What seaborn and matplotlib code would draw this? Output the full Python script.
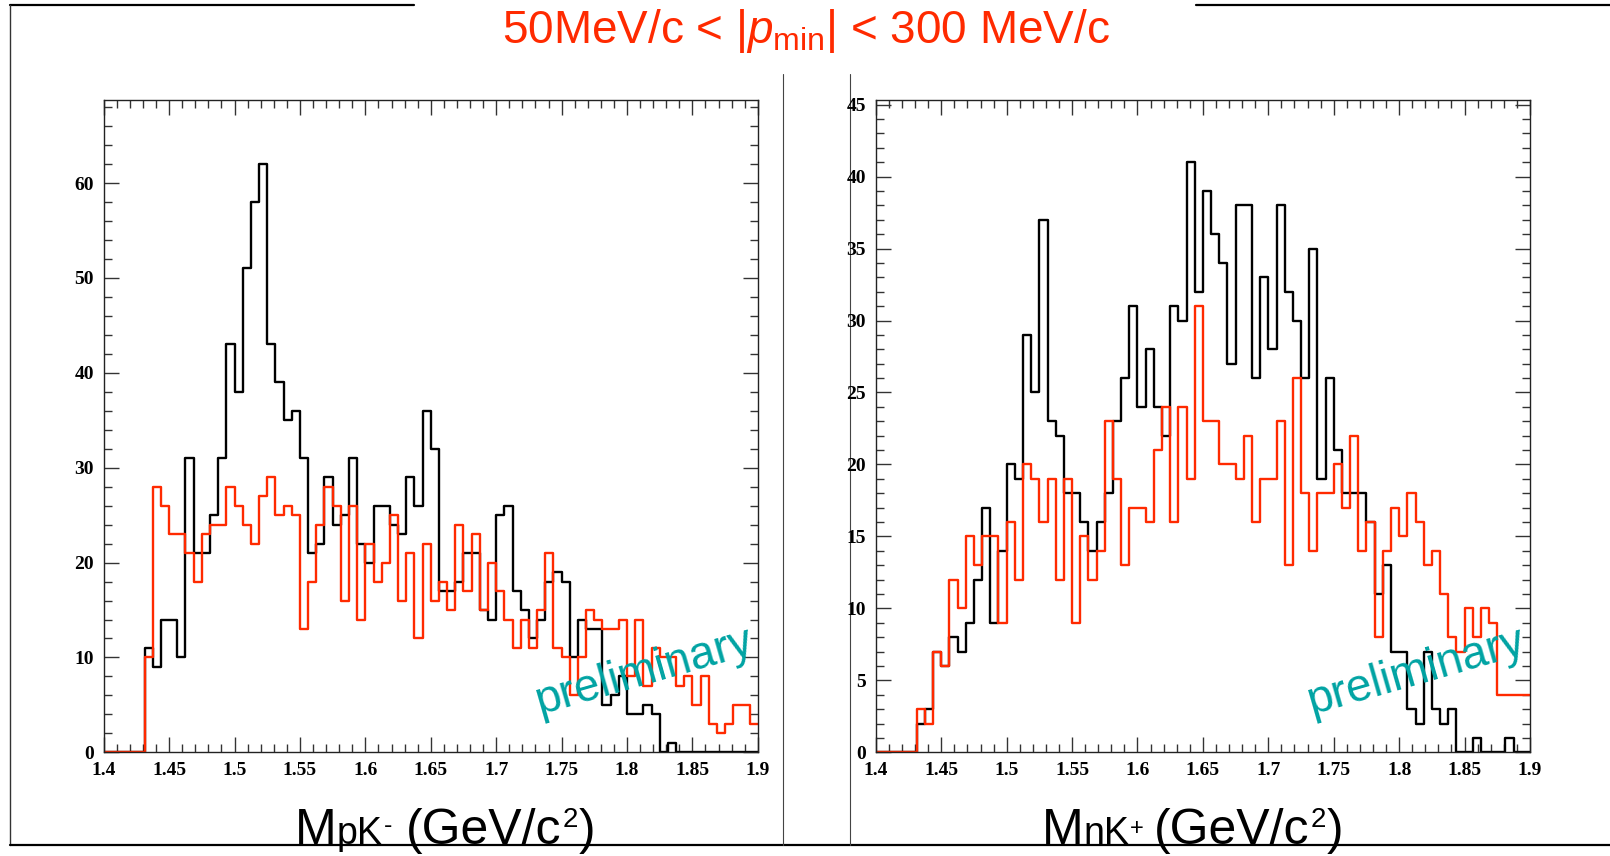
import numpy as np
import pandas as pd
import matplotlib
matplotlib.use("Agg")
import matplotlib.pyplot as plt
import seaborn as sns
from matplotlib.lines import Line2D
from matplotlib.ticker import MultipleLocator, FixedLocator, FixedFormatter

# ---------------- data ----------------
x_min, x_max, n_bins = 1.4, 1.9, 80

left_black = [0, 0, 0, 0, 0, 11, 9, 14, 14, 10,
              31, 21, 21, 25, 31, 43, 38, 51, 58, 62,
              43, 39, 35, 36, 31, 21, 22, 29, 24, 25,
              31, 22, 20, 26, 26, 24, 23, 29, 26, 36,
              32, 17, 17, 18, 21, 21, 15, 14, 25, 26,
              17, 15, 12, 14, 18, 19, 18, 10, 14, 13,
              13, 5, 6, 8, 4, 4, 5, 4, 0, 1,
              0, 0, 0, 0, 0, 0, 0, 0, 0, 0]
left_red = [0, 0, 0, 0, 0, 10, 28, 26, 23, 23,
            21, 18, 23, 24, 24, 28, 26, 24, 22, 27,
            29, 25, 26, 25, 13, 18, 24, 28, 26, 16,
            26, 14, 22, 18, 20, 25, 16, 21, 12, 22,
            16, 18, 15, 24, 17, 23, 15, 20, 17, 14,
            11, 14, 11, 15, 21, 11, 10, 6, 10, 15,
            14, 13, 13, 14, 8, 14, 7, 11, 10, 10,
            7, 8, 5, 8, 3, 2, 3, 5, 5, 3]
right_black = [0, 0, 0, 0, 0, 2, 3, 7, 6, 8,
               7, 9, 12, 17, 9, 14, 20, 19, 29, 25,
               37, 23, 22, 18, 18, 16, 14, 16, 18, 23,
               26, 31, 24, 28, 24, 22, 31, 30, 41, 32,
               39, 36, 34, 27, 38, 38, 26, 33, 28, 38,
               32, 30, 26, 35, 19, 26, 21, 18, 18, 18,
               16, 11, 13, 7, 7, 3, 2, 7, 3, 2,
               3, 0, 0, 1, 0, 0, 0, 1, 0, 0]
right_red = [0, 0, 0, 0, 0, 3, 2, 7, 6, 12,
             10, 15, 13, 15, 15, 9, 16, 12, 20, 19,
             16, 19, 12, 19, 9, 15, 12, 14, 23, 19,
             13, 17, 17, 16, 21, 24, 16, 24, 19, 31,
             23, 23, 20, 20, 19, 22, 16, 19, 19, 23,
             13, 26, 18, 14, 18, 18, 20, 17, 22, 14,
             16, 8, 14, 17, 15, 18, 16, 13, 14, 11,
             8, 7, 10, 8, 10, 9, 4, 4, 4, 4]

x_ticks = [1.4, 1.45, 1.5, 1.55, 1.6, 1.65, 1.7, 1.75, 1.8, 1.85, 1.9]
x_tick_labels = ["1.4", "1.45", "1.5", "1.55", "1.6", "1.65", "1.7",
                 "1.75", "1.8", "1.85", "1.9"]
left_yticks = [0, 10, 20, 30, 40, 50, 60]
right_yticks = [0, 5, 10, 15, 20, 25, 30, 35, 40, 45]

title_text = "50MeV/c < |$\\mathit{p}_{\\mathregular{min}}$| < 300 MeV/c"
# x-axis label pieces: (text, fontsize, raise in px, gap after in px)
left_xlabel = [("M", 36, 0, 0), ("pK", 27, 0, 1), ("-", 18, 11, 14),
               ("(GeV/c", 36, 0, 1), ("2", 20, 17, 1), (")", 36, 0, 0)]
right_xlabel = [("M", 36, 0, 0), ("nK", 27, 0, 1), ("+", 17, 9, 10),
                ("(GeV/c", 36, 0, 1), ("2", 20, 17, 1), (")", 36, 0, 0)]
watermark = "preliminary"

# ---------------- style ----------------
sns.set_theme(style="white")
plt.rcParams["font.family"] = ["Liberation Sans", "DejaVu Sans"]
plt.rcParams["mathtext.fontset"] = "custom"
plt.rcParams["mathtext.rm"] = "Liberation Sans"
plt.rcParams["mathtext.it"] = "Liberation Sans:italic"
plt.rcParams["mathtext.bf"] = "Liberation Sans:bold"

RED = "#ff2a00"
TEAL = "#00a3a3"

bin_w = (x_max - x_min) / n_bins
centers = x_min + bin_w * (np.arange(n_bins) + 0.5)

fig = plt.figure(figsize=(16.1, 8.56), dpi=100)
fig.patch.set_facecolor("white")

ax_l = fig.add_axes([0.0644, 0.1211, 0.4063, 0.7626])
ax_r = fig.add_axes([0.5440, 0.1211, 0.4063, 0.7626])

panels = [
    (ax_l, left_black, left_red, 68.8, left_yticks, 2),
    (ax_r, right_black, right_red, 45.35, right_yticks, 1),
]

for ax, blk, red, ytop, yt, ymin in panels:
    for vals, col in ((blk, "black"), (red, RED)):
        df = pd.DataFrame({"x": centers, "w": np.asarray(vals, dtype=float)})
        sns.histplot(data=df, x="x", weights="w", binwidth=bin_w,
                     binrange=(x_min, x_max), element="step", fill=False,
                     color=col, linewidth=1.7, ax=ax)
    ax.set_xlim(x_min, x_max)
    ax.set_ylim(0, ytop)
    ax.set_xlabel("")
    ax.set_ylabel("")
    ax.xaxis.set_major_locator(FixedLocator(x_ticks))
    ax.xaxis.set_major_formatter(FixedFormatter(x_tick_labels))
    ax.xaxis.set_minor_locator(MultipleLocator(0.01))
    ax.yaxis.set_major_locator(FixedLocator(yt))
    ax.yaxis.set_minor_locator(MultipleLocator(ymin))
    ax.tick_params(which="both", direction="in", top=True, right=True,
                   bottom=True, left=True, color="#333333", width=1.0)
    ax.tick_params(which="major", length=11, pad=7)
    ax.tick_params(which="minor", length=5.5)
    for lab in ax.get_xticklabels() + ax.get_yticklabels():
        lab.set_fontfamily("Liberation Serif")
        lab.set_fontweight("bold")
        lab.set_fontsize(14)
        lab.set_color("black")
    for sp in ax.spines.values():
        sp.set_color("#222222")
        sp.set_linewidth(1.0)
    ax.text(0.826, 0.123, watermark, transform=ax.transAxes, rotation=16,
            ha="center", va="center", fontsize=33, color=TEAL)

# title
fig.text(0.5006, 0.950, title_text, ha="center", va="baseline",
         fontsize=33, color=RED)

# x-axis labels built from pieces placed side by side on one baseline
renderer = fig.canvas.get_renderer()
W, H = fig.bbox.width, fig.bbox.height


def place_label(pieces, x_center, y_base):
    objs = []
    for txt, fs, dy, gap in pieces:
        t = fig.text(0, y_base + dy / H, txt, fontsize=fs, ha="left",
                     va="baseline", color="black")
        w = t.get_window_extent(renderer).width
        objs.append((t, dy, w, gap))
    total = sum(w + g for _, _, w, g in objs)
    x = x_center * W - total / 2
    for t, dy, w, g in objs:
        t.set_position((x / W, y_base + dy / H))
        x += w + g


place_label(left_xlabel, 0.2764, 0.0135)
place_label(right_xlabel, 0.7406, 0.0135)

# frame lines
frame = [
    ([0.0064, 0.257], [0.994, 0.994], 1.6, "black"),
    ([0.743, 1.0], [0.994, 0.994], 1.6, "black"),
    ([0.0064, 0.0064], [0.994, 0.0128], 1.0, "#333333"),
    ([0.0064, 1.0], [0.0128, 0.0128], 1.6, "black"),
    ([0.4866, 0.4866], [0.913, 0.0128], 0.8, "#444444"),
    ([0.528, 0.528], [0.913, 0.0128], 0.8, "#444444"),
]
for xs, ys, lw, c in frame:
    fig.add_artist(Line2D(xs, ys, transform=fig.transFigure, lw=lw,
                          color=c, zorder=0))

fig.savefig("out.png", dpi=100, facecolor="white")
